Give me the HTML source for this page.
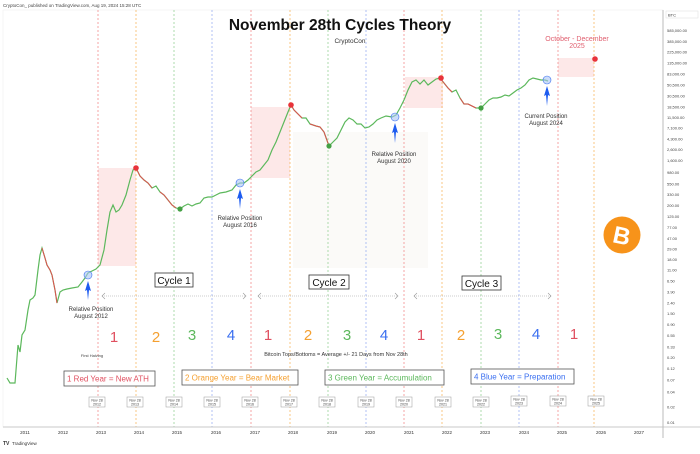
<!DOCTYPE html>
<html><head><meta charset="utf-8"><style>
body{margin:0;background:#fff;width:700px;height:449px;overflow:hidden;font-family:"Liberation Sans",sans-serif}
</style></head><body>
<svg width="700" height="449" viewBox="0 0 700 449" xmlns="http://www.w3.org/2000/svg" font-family="Liberation Sans, sans-serif">
<rect width="700" height="449" fill="#fff"/>
<text x="3" y="7" font-size="4.5" fill="#444">CryptoCon_ published on TradingView.com, Aug 19, 2024 15:28 UTC</text>
<rect x="3" y="10" width="660" height="417" fill="#fff" stroke="#eee" stroke-width="0.5"/>
<rect x="293" y="132" width="135" height="136" fill="#fbfaf8"/>
<rect x="98" y="168" width="38" height="98" fill="#fde8e8"/>
<rect x="251" y="107" width="39" height="71" fill="#fde8e8"/>
<rect x="405" y="77" width="38" height="31" fill="#fde8e8"/>
<rect x="558" y="58" width="36" height="19" fill="#fde8e8"/>
<g stroke-width="0.7" stroke-dasharray="2,2">
<line x1="98" y1="10" x2="98" y2="427" stroke="#f08080"/>
<line x1="136" y1="10" x2="136" y2="427" stroke="#f5b050"/>
<line x1="174" y1="10" x2="174" y2="427" stroke="#8ccc8c"/>
<line x1="212" y1="10" x2="212" y2="427" stroke="#8fa8f0"/>
<line x1="251" y1="10" x2="251" y2="427" stroke="#f08080"/>
<line x1="290" y1="10" x2="290" y2="427" stroke="#f5b050"/>
<line x1="328" y1="10" x2="328" y2="427" stroke="#8ccc8c"/>
<line x1="366" y1="10" x2="366" y2="427" stroke="#8fa8f0"/>
<line x1="404" y1="10" x2="404" y2="427" stroke="#f08080"/>
<line x1="442" y1="10" x2="442" y2="427" stroke="#f5b050"/>
<line x1="481" y1="10" x2="481" y2="427" stroke="#8ccc8c"/>
<line x1="519" y1="10" x2="519" y2="427" stroke="#8fa8f0"/>
<line x1="558" y1="10" x2="558" y2="427" stroke="#f08080"/>
<line x1="594" y1="10" x2="594" y2="427" stroke="#f5b050"/>
</g>
<polyline fill="none" stroke="#5cb85c" stroke-width="1.2" points="7,378 10,383 15,383 18,345 20,352 22,335 25,330 28,310 30,300 33,298 35,295 38,270 40,255 42,248 45,258 47,265 50,270 52,275 55,290 57,303 60,292 63,290 67,289 72,288 78,287 82,282 85,278 88,273 92,271 96,269 100,265 104,250 107,230 110,212 113,205 116,212 119,210 122,205 126,195 130,180 133,170 136,168 140,176 144,180 148,183 152,188 156,186 160,192 164,195 168,200 172,205 176,208 180,209 184,206 188,204 192,206 196,204 200,203 204,198 208,197 212,197 216,195 220,193 226,192 232,190 236,185 240,183 244,183 248,180 252,176 256,172 260,170 264,165 268,160 272,150 276,142 280,132 284,122 288,112 291,105 294,110 298,114 302,118 306,118 310,124 316,126 320,127 324,132 329,146 333,142 337,138 341,130 345,122 349,118 353,120 357,124 361,124 365,128 369,127 373,124 377,120 381,118 386,116 392,117 396,115 400,108 404,100 408,90 412,82 416,80 420,84 424,80 428,85 432,82 436,79 440,78 444,83 448,88 452,92 456,90 460,98 464,104 468,104 472,106 476,108 481,108 485,104 489,100 493,98 497,98 501,97 505,95 509,96 513,93 517,90 521,88 525,85 529,80 533,78 537,79 541,80 545,80 548,81"/>
<g fill="none" stroke="#e05050" stroke-width="1">
<polyline points="42,248 45,258 47,265 50,270 52,275 55,290 57,303"/>
<polyline points="136,168 140,176 144,180 148,183 152,188"/>
<polyline points="160,192 164,195 168,200 172,205 176,208"/>
<polyline points="291,105 294,110 298,114 302,118"/>
<polyline points="310,124 316,126 320,127 324,132 329,146"/>
<polyline points="440,78 444,83 448,88 452,92"/>
<polyline points="460,98 464,104 468,104 472,106 476,108"/>
</g>
<circle cx="136" cy="168" r="2.8" fill="#e8333a"/>
<circle cx="291" cy="105" r="2.8" fill="#e8333a"/>
<circle cx="441" cy="78" r="2.8" fill="#e8333a"/>
<circle cx="595" cy="59" r="2.8" fill="#e8333a"/>
<circle cx="180" cy="209" r="2.6" fill="#44a044"/>
<circle cx="329" cy="146" r="2.6" fill="#44a044"/>
<circle cx="481" cy="108" r="2.6" fill="#44a044"/>
<g fill="#a8c4f5" fill-opacity="0.6" stroke="#3a6ff0" stroke-width="0.6">
<circle cx="88" cy="275" r="4"/><circle cx="240" cy="183" r="4"/><circle cx="395" cy="117" r="4"/><circle cx="547" cy="80" r="4"/>
</g>
<g fill="#1e5cf0">
<path d="M88,281 L85,291 L87,290 L88,300 L89,290 L91,291 Z"/>
<path d="M240,189 L237,199 L239,198 L240,209 L241,198 L243,199 Z"/>
<path d="M395,123 L392,133 L394,132 L395,143 L396,132 L398,133 Z"/>
<path d="M547,86 L544,96 L546,95 L547,106 L548,95 L550,96 Z"/>
</g>
<g font-size="6" fill="#333" text-anchor="middle">
<text x="91" y="311">Relative Position</text><text x="91" y="318">August 2012</text>
<text x="240" y="220">Relative Position</text><text x="240" y="227">August 2016</text>
<text x="394" y="156">Relative Position</text><text x="394" y="163">August 2020</text>
<text x="546" y="118">Current Position</text><text x="546" y="125">August 2024</text>
</g>
<text x="577" y="41" font-size="7" fill="#e06070" text-anchor="middle">October - December</text>
<text x="577" y="48" font-size="7" fill="#e06070" text-anchor="middle">2025</text>
<text x="340" y="30" font-size="15.5" font-weight="bold" fill="#111" text-anchor="middle">November 28th Cycles Theory</text>
<text x="350" y="43" font-size="6.5" fill="#333" text-anchor="middle">CryptoCon</text>
<g font-size="10" fill="#111" text-anchor="middle">
<rect x="155" y="273" width="38" height="14" fill="#fff" stroke="#333" stroke-width="0.8"/><text x="174" y="284">Cycle 1</text>
<rect x="309" y="275" width="40" height="14" fill="#fff" stroke="#333" stroke-width="0.8"/><text x="329" y="286">Cycle 2</text>
<rect x="462" y="276" width="39" height="14" fill="#fff" stroke="#333" stroke-width="0.8"/><text x="481.5" y="287">Cycle 3</text>
</g>
<g stroke="#999" stroke-width="0.6" stroke-dasharray="1,1" fill="none">
<line x1="102" y1="296" x2="246" y2="296"/><line x1="258" y1="296" x2="398" y2="296"/><line x1="414" y1="296" x2="551" y2="296"/>
</g>
<g stroke="#999" stroke-width="0.6" fill="none">
<path d="M105,293 L102,296 L105,299"/><path d="M243,293 L246,296 L243,299"/>
<path d="M261,293 L258,296 L261,299"/><path d="M395,293 L398,296 L395,299"/>
<path d="M417,293 L414,296 L417,299"/><path d="M548,293 L551,296 L548,299"/>
</g>
<g font-size="15" text-anchor="middle">
<text x="114" y="342" fill="#e05060">1</text><text x="156" y="342" fill="#f5a030">2</text><text x="192" y="340" fill="#5cb85c">3</text><text x="231" y="340" fill="#3a6ff0">4</text>
<text x="268" y="340" fill="#e05060">1</text><text x="308" y="340" fill="#f5a030">2</text><text x="347" y="340" fill="#5cb85c">3</text><text x="384" y="340" fill="#3a6ff0">4</text>
<text x="421" y="340" fill="#e05060">1</text><text x="461" y="340" fill="#f5a030">2</text><text x="498" y="339" fill="#5cb85c">3</text><text x="536" y="339" fill="#3a6ff0">4</text>
<text x="574" y="339" fill="#e05060">1</text>
</g>
<text x="92" y="357" font-size="4" fill="#444" text-anchor="middle">First Halving</text>
<text x="336" y="356" font-size="5.5" fill="#333" text-anchor="middle">Bitcoin Tops/Bottoms = Average +/- 21 Days from Nov 28th</text>
<g font-size="8">
<rect x="64" y="371" width="91" height="15" fill="#fff" stroke="#555" stroke-width="0.8"/><text x="67" y="381.5" fill="#e05060">1 Red Year = New ATH</text>
<rect x="182" y="370" width="116" height="15" fill="#fff" stroke="#555" stroke-width="0.8"/><text x="185" y="380.5" fill="#f5a030">2 Orange Year = Bear Market</text>
<rect x="325" y="370" width="119" height="15" fill="#fff" stroke="#555" stroke-width="0.8"/><text x="328" y="380.5" fill="#5cb85c">3 Green Year = Accumulation</text>
<rect x="471" y="369" width="103" height="15" fill="#fff" stroke="#555" stroke-width="0.8"/><text x="474" y="379.5" fill="#3a6ff0">4 Blue Year = Preparation</text>
</g>
<g font-size="3.6" fill="#444" text-anchor="middle">
<g transform="translate(97,0)"><rect x="-8" y="397" width="16" height="10" fill="#fff" stroke="#999" stroke-width="0.5"/><text y="401.5">Nov 28</text><text y="405.5">2012</text></g>
<g transform="translate(135,0)"><rect x="-8" y="397" width="16" height="10" fill="#fff" stroke="#999" stroke-width="0.5"/><text y="401.5">Nov 28</text><text y="405.5">2013</text></g>
<g transform="translate(174,0)"><rect x="-8" y="397" width="16" height="10" fill="#fff" stroke="#999" stroke-width="0.5"/><text y="401.5">Nov 28</text><text y="405.5">2014</text></g>
<g transform="translate(212,0)"><rect x="-8" y="397" width="16" height="10" fill="#fff" stroke="#999" stroke-width="0.5"/><text y="401.5">Nov 28</text><text y="405.5">2015</text></g>
<g transform="translate(250,0)"><rect x="-8" y="397" width="16" height="10" fill="#fff" stroke="#999" stroke-width="0.5"/><text y="401.5">Nov 28</text><text y="405.5">2016</text></g>
<g transform="translate(289,0)"><rect x="-8" y="397" width="16" height="10" fill="#fff" stroke="#999" stroke-width="0.5"/><text y="401.5">Nov 28</text><text y="405.5">2017</text></g>
<g transform="translate(327,0)"><rect x="-8" y="397" width="16" height="10" fill="#fff" stroke="#999" stroke-width="0.5"/><text y="401.5">Nov 28</text><text y="405.5">2018</text></g>
<g transform="translate(366,0)"><rect x="-8" y="397" width="16" height="10" fill="#fff" stroke="#999" stroke-width="0.5"/><text y="401.5">Nov 28</text><text y="405.5">2019</text></g>
<g transform="translate(404,0)"><rect x="-8" y="397" width="16" height="10" fill="#fff" stroke="#999" stroke-width="0.5"/><text y="401.5">Nov 28</text><text y="405.5">2020</text></g>
<g transform="translate(443,0)"><rect x="-8" y="397" width="16" height="10" fill="#fff" stroke="#999" stroke-width="0.5"/><text y="401.5">Nov 28</text><text y="405.5">2021</text></g>
<g transform="translate(481,0)"><rect x="-8" y="397" width="16" height="10" fill="#fff" stroke="#999" stroke-width="0.5"/><text y="401.5">Nov 28</text><text y="405.5">2022</text></g>
<g transform="translate(519,0)"><rect x="-8" y="396" width="16" height="10" fill="#fff" stroke="#999" stroke-width="0.5"/><text y="400.5">Nov 28</text><text y="404.5">2023</text></g>
<g transform="translate(558,0)"><rect x="-8" y="396" width="16" height="10" fill="#fff" stroke="#999" stroke-width="0.5"/><text y="400.5">Nov 28</text><text y="404.5">2024</text></g>
<g transform="translate(596,0)"><rect x="-8" y="396" width="16" height="10" fill="#fff" stroke="#999" stroke-width="0.5"/><text y="400.5">Nov 28</text><text y="404.5">2025</text></g>
</g>
<circle cx="622" cy="235" r="18.5" fill="#f7931a"/>
<text x="622" y="244" font-size="24" font-weight="bold" fill="#fff" text-anchor="middle" transform="rotate(12 622 235)">B</text>
<line x1="3" y1="427" x2="700" y2="427" stroke="#bbb" stroke-width="0.8"/>
<line x1="663" y1="10" x2="663" y2="438" stroke="#bbb" stroke-width="1"/>
<g font-size="4.5" fill="#333" text-anchor="middle">
<text x="25" y="434">2011</text><text x="63" y="434">2012</text><text x="101" y="434">2013</text><text x="139" y="434">2014</text><text x="177" y="434">2015</text><text x="216" y="434">2016</text><text x="255" y="434">2017</text><text x="293" y="434">2018</text><text x="332" y="434">2019</text><text x="370" y="434">2020</text><text x="409" y="434">2021</text><text x="447" y="434">2022</text><text x="485" y="434">2023</text><text x="524" y="434">2024</text><text x="562" y="434">2025</text><text x="601" y="434">2026</text><text x="639" y="434">2027</text>
</g>
<rect x="666" y="11" width="32" height="7" fill="#fff" stroke="#ddd" stroke-width="0.5"/>
<text x="668" y="16.5" font-size="4" fill="#333">BTC</text>
<g font-size="4" fill="#444">
<text x="667" y="32">585,000.00</text><text x="667" y="43">385,000.00</text><text x="667" y="53.5">225,000.00</text><text x="667" y="64.5">135,000.00</text><text x="667" y="75.5">83,000.00</text><text x="667" y="86.5">50,500.00</text><text x="667" y="97.5">30,500.00</text><text x="667" y="108.5">18,500.00</text><text x="667" y="119">11,500.00</text><text x="667" y="129.5">7,100.00</text><text x="667" y="140.5">4,300.00</text><text x="667" y="151">2,600.00</text><text x="667" y="162">1,600.00</text><text x="667" y="174">980.00</text><text x="667" y="185.5">550.00</text><text x="667" y="196">330.00</text><text x="667" y="207">200.00</text><text x="667" y="218">125.00</text><text x="667" y="229">77.00</text><text x="667" y="240">47.00</text><text x="667" y="250.5">29.00</text><text x="667" y="261">18.00</text><text x="667" y="271.5">11.00</text><text x="667" y="282.5">6.50</text><text x="667" y="293.5">3.90</text><text x="667" y="304.5">2.40</text><text x="667" y="315">1.50</text><text x="667" y="326">0.90</text><text x="667" y="337">0.55</text><text x="667" y="348.5">0.33</text><text x="667" y="359">0.20</text><text x="667" y="370">0.12</text><text x="667" y="381.5">0.07</text><text x="667" y="393.5">0.04</text><text x="667" y="408.5">0.02</text><text x="667" y="424">0.01</text>
</g>
<text x="3" y="445" font-size="5" fill="#333" font-weight="bold">TV</text>
<text x="12" y="445" font-size="4.5" fill="#333">TradingView</text>
</svg>
</body></html>
